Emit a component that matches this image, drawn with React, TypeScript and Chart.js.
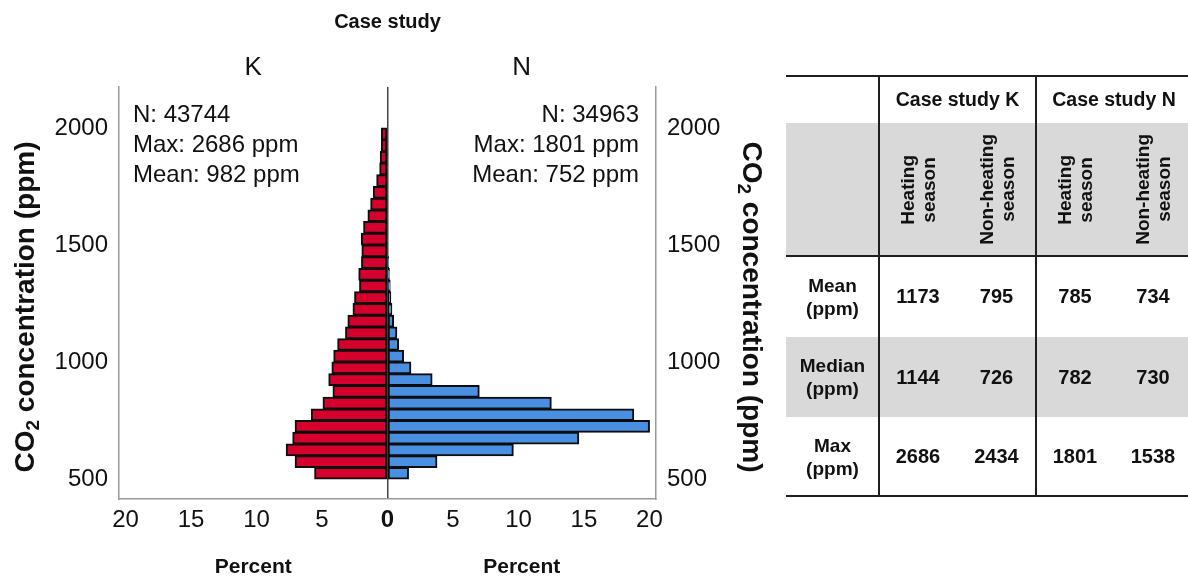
import React, { useEffect, useRef } from 'react';
import { Chart, registerables } from 'chart.js';

Chart.register(...registerables);

const FONT = "'Liberation Sans', Arial, sans-serif";

// Histogram bins (bin centres, ppm), bottom to top
const binCenters = [525, 575, 625, 675, 725, 775, 825, 875, 925, 975, 1025, 1075, 1125, 1175, 1225, 1275, 1325, 1375, 1425, 1475, 1525, 1575, 1625, 1675, 1725, 1775, 1825, 1875, 1925, 1975];
// Case study K (percent), drawn to the left
const kPercent = [5.56, 7.05, 7.73, 7.23, 7.05, 5.81, 4.92, 4.16, 4.48, 4.24, 4.1, 3.8, 3.2, 3.02, 2.63, 2.51, 2.13, 2.19, 1.98, 1.95, 1.99, 1.82, 1.49, 1.28, 1.08, 0.82, 0.59, 0.55, 0.46, 0.46];
// Case study N (percent), drawn to the right
const nPercent = [1.6, 3.77, 9.6, 14.6, 20.0, 18.8, 12.5, 7.0, 3.4, 1.78, 1.22, 0.84, 0.71, 0.46, 0.33, 0.25, 0.2, 0.14, 0.08, 0, 0, 0, 0, 0, 0, 0, 0, 0, 0, 0];

const xTickValues = [-20, -15, -10, -5, 0, 5, 10, 15, 20];
const yTickValues = [500, 1000, 1500, 2000];

const chartTitle = 'Case study';
const panelLabels = ['K', 'N'];
const xTitle = 'Percent';
const kStats = ['N: 43744', 'Max: 2686 ppm', 'Mean: 982 ppm'];
const nStats = ['N: 34963', 'Max: 1801 ppm', 'Mean: 752 ppm'];

// Table
const tableGroups = ['Case study K', 'Case study N'];
const seasonLabels = [['Heating', 'season'], ['Non-heating', 'season']];
const rowLabels = [['Mean', '(ppm)'], ['Median', '(ppm)'], ['Max', '(ppm)']];
const kHeating = [1173, 1144, 2686];
const kNonHeating = [795, 726, 2434];
const nHeating = [785, 782, 1801];
const nNonHeating = [734, 730, 1538];

const textPlugin = {
  id: 'customTexts',
  afterDraw(chart: any) {
    const { ctx, chartArea: ca, scales } = chart;
    const zero = scales.x.getPixelForValue(0);
    const leftC = (ca.left + zero) / 2;
    const rightC = (zero + ca.right) / 2;
    ctx.save();
    ctx.fillStyle = '#111';
    ctx.textBaseline = 'alphabetic';
    ctx.textAlign = 'center';
    ctx.font = `bold 20px ${FONT}`;
    ctx.fillText(chartTitle, zero, 28);
    ctx.font = `26px ${FONT}`;
    ctx.fillText(panelLabels[0], leftC, 75);
    ctx.fillText(panelLabels[1], rightC, 75);
    ctx.font = `bold 21px ${FONT}`;
    ctx.fillText(xTitle, leftC, 573);
    ctx.fillText(xTitle, rightC, 573);

    ctx.font = `24px ${FONT}`;
    ctx.textAlign = 'left';
    kStats.forEach((t, i) => ctx.fillText(t, ca.left + 14, ca.top + 35 + i * 30));
    ctx.textAlign = 'right';
    nStats.forEach((t, i) => ctx.fillText(t, ca.right - 17, ca.top + 35 + i * 30));

    const drawTitle = (cx: number, cy: number, rot: number) => {
      const big = `bold 28px ${FONT}`;
      const small = `bold 19px ${FONT}`;
      const p1 = 'CO';
      const p2 = '2';
      const p3 = ' concentration (ppm)';
      ctx.font = big;
      const w1 = ctx.measureText(p1).width;
      const w3 = ctx.measureText(p3).width;
      ctx.font = small;
      const w2 = ctx.measureText(p2).width;
      const total = w1 + w2 + w3;
      ctx.save();
      ctx.translate(cx, cy);
      ctx.rotate(rot);
      ctx.textAlign = 'left';
      ctx.textBaseline = 'middle';
      let x0 = -total / 2;
      ctx.font = big;
      ctx.fillText(p1, x0, 0);
      x0 += w1;
      ctx.font = small;
      ctx.fillText(p2, x0, 8);
      x0 += w2;
      ctx.font = big;
      ctx.fillText(p3, x0, 0);
      ctx.restore();
    };
    drawTitle(26, 307, -Math.PI / 2);
    drawTitle(751, 307, Math.PI / 2);
    ctx.restore();
  },
};

function ChartPanel() {
  const ref = useRef<HTMLCanvasElement | null>(null);
  useEffect(() => {
    if (!ref.current) return;
    const tickFont = (c: any) => ({
      family: FONT,
      size: 24,
      weight: c && c.tick && c.tick.value === 0 ? 'bold' : 'normal',
    });
    const yAxisCommon = {
      type: 'linear',
      min: 415,
      max: 2175,
      offset: false,
      afterBuildTicks: (s: any) => {
        s.ticks = yTickValues.map((v) => ({ value: v }));
      },
      grid: { display: false, drawTicks: false, offset: false },
      border: { display: true, color: '#9a9a9a', width: 1.5 },
      ticks: { color: '#111', font: { family: FONT, size: 24 }, padding: 11, callback: (v: any) => String(v) },
    };
    const barCommon = {
      borderColor: '#0d0d0d',
      borderWidth: 2,
      borderSkipped: false,
      grouped: false,
      barPercentage: 1,
      categoryPercentage: 1,
      inflateAmount: 0.5,
    };
    const chart = new Chart(ref.current, {
      type: 'bar',
      data: {
        datasets: [
          {
            label: 'K',
            data: binCenters.map((c, i) => ({ x: -kPercent[i], y: c })),
            backgroundColor: '#D5002B',
            ...barCommon,
          },
          {
            label: 'N',
            data: binCenters.map((c, i) => ({ x: nPercent[i] === 0 ? null : nPercent[i], y: c })),
            backgroundColor: '#4A90E2',
            ...barCommon,
          },
        ],
      } as any,
      options: {
        indexAxis: 'y',
        animation: false,
        responsive: true,
        maintainAspectRatio: false,
        layout: { padding: { top: 87, left: 0, right: 0, bottom: 0 } },
        plugins: {
          legend: { display: false },
          tooltip: { enabled: false },
          title: { display: false },
        },
        scales: {
          x: {
            type: 'linear',
            position: 'bottom',
            min: -20.5,
            max: 20.5,
            offset: false,
            afterBuildTicks: (s: any) => {
              s.ticks = xTickValues.map((v) => ({ value: v }));
            },
            afterFit: (s: any) => {
              s.height = 79;
            },
            grid: {
              display: true,
              drawTicks: false,
              offset: false,
              color: (c: any) => (c.tick && c.tick.value === 0 ? '#444' : 'rgba(0,0,0,0)'),
              lineWidth: 1.5,
            },
            border: { display: true, color: '#9a9a9a', width: 1.5 },
            ticks: {
              color: '#111',
              font: tickFont,
              padding: 7,
              callback: (v: any) => String(Math.abs(Number(v))),
            },
          },
          y: {
            ...yAxisCommon,
            position: 'left',
            afterFit: (s: any) => {
              s.width = 119;
            },
          },
          y2: {
            ...yAxisCommon,
            position: 'right',
            afterFit: (s: any) => {
              s.width = 124;
            },
          },
        },
      } as any,
      plugins: [textPlugin],
    });
    return () => chart.destroy();
  }, []);
  return (
    <div style={{ position: 'absolute', left: 0, top: 0, width: 780, height: 578 }}>
      <canvas ref={ref} />
    </div>
  );
}

const cols = [
  { l: 786, r: 879 },
  { l: 879, r: 957 },
  { l: 957, r: 1036 },
  { l: 1036, r: 1114 },
  { l: 1114, r: 1192 },
];
const rows = [
  { t: 76, b: 123 },
  { t: 123, b: 256 },
  { t: 256, b: 337 },
  { t: 337, b: 417 },
  { t: 417, b: 496 },
];

function Cell(props: { l: number; r: number; t: number; b: number; children: any; style?: any }) {
  const { l, r, t, b, children, style } = props;
  return (
    <div
      style={{
        position: 'absolute',
        left: l,
        top: t,
        width: r - l,
        height: b - t,
        display: 'flex',
        alignItems: 'center',
        justifyContent: 'center',
        textAlign: 'center',
        fontFamily: FONT,
        fontWeight: 'bold',
        color: '#111',
        ...style,
      }}
    >
      {children}
    </div>
  );
}

function StatsTable() {
  const line = (l: number, t: number, w: number, h: number, key: string) => (
    <div key={key} style={{ position: 'absolute', left: l, top: t, width: w, height: h, background: '#1e1e1e' }} />
  );
  const values = [kHeating, kNonHeating, nHeating, nNonHeating];
  const left = 786;
  const right = 1188;
  return (
    <div style={{ position: 'absolute', left: 0, top: 0, width: 1188, height: 578 }}>
      <div style={{ position: 'absolute', left, top: rows[1].t, width: right - left, height: rows[1].b - rows[1].t, background: '#d9d9d9' }} />
      <div style={{ position: 'absolute', left, top: rows[3].t, width: right - left, height: rows[3].b - rows[3].t, background: '#d9d9d9' }} />
      {tableGroups.map((g, i) => (
        <Cell key={g} l={cols[1 + i * 2].l} r={cols[2 + i * 2].r} t={rows[0].t} b={rows[0].b} style={{ fontSize: 19.5 }}>
          {g}
        </Cell>
      ))}
      {[0, 1, 2, 3].map((ci) => (
        <Cell key={'h' + ci} l={cols[ci + 1].l} r={cols[ci + 1].r} t={rows[1].t} b={rows[1].b} style={{ fontSize: 19 }}>
          <div style={{ writingMode: 'vertical-rl', transform: 'rotate(180deg)', lineHeight: '21px', whiteSpace: 'nowrap' }}>
            {seasonLabels[ci % 2][0]}
            <br />
            {seasonLabels[ci % 2][1]}
          </div>
        </Cell>
      ))}
      {rowLabels.map((rl, ri) => (
        <Cell key={'r' + ri} l={cols[0].l} r={cols[0].r} t={rows[ri + 2].t} b={rows[ri + 2].b} style={{ fontSize: 19, lineHeight: '23px' }}>
          <div>
            {rl[0]}
            <br />
            {rl[1]}
          </div>
        </Cell>
      ))}
      {rowLabels.map((_, ri) =>
        values.map((arr, ci) => (
          <Cell key={'v' + ri + '-' + ci} l={cols[ci + 1].l} r={cols[ci + 1].r} t={rows[ri + 2].t} b={rows[ri + 2].b} style={{ fontSize: 20 }}>
            {arr[ri]}
          </Cell>
        ))
      )}
      {line(left, 75, right - left, 2, 'top')}
      {line(left, 255, right - left, 2, 'mid')}
      {line(left, 495, right - left, 2, 'bot')}
      {line(878, 76, 2, 420, 'v1')}
      {line(1035, 76, 2, 420, 'v2')}
    </div>
  );
}

export default function App() {
  return (
    <div style={{ position: 'fixed', left: 0, top: 0, width: 1188, height: 578, overflow: 'hidden', background: '#fff' }}>
      <ChartPanel />
      <StatsTable />
    </div>
  );
}
